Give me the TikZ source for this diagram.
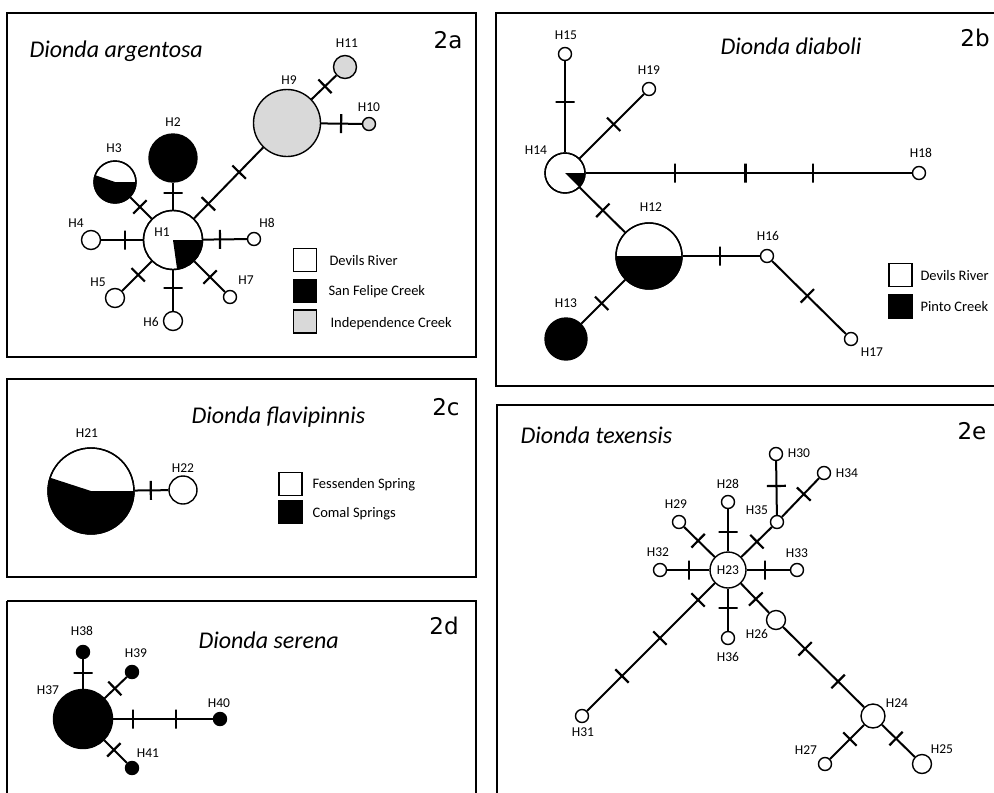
\documentclass[tikz,border=0pt]{standalone}
\usepackage{fontspec}
\setmainfont{Carlito}
\newfontfamily\panelfont{DejaVu Sans}
\definecolor{indep}{HTML}{D9D9D9}
\begin{document}
\begin{tikzpicture}[x=1pt,y=-1pt,
  hap/.style={circle, draw, line width=1.4pt, fill=white, inner sep=0pt, minimum size=#1},
  hap/.default=13pt,
  link/.style={line width=2pt},
  rim/.style={line width=1.4pt},
  mut/.style={sloped, draw, line width=2.2pt, line join=bevel, inner sep=0pt, minimum width=0pt, minimum height=19pt, pos=#1},
  lab/.style={font=\fontsize{13.5}{14}\selectfont},
  leg/.style={anchor=base west, font=\fontsize{14.5}{16}\selectfont},
  legbox/.style={draw, line width=1.4pt, minimum size=23pt, inner sep=0pt},
  ttl/.style={anchor=base west, font=\fontsize{24}{26}\selectfont\itshape},
  panel/.style={font=\fontsize{23}{26}\selectfont\panelfont},
  frame/.style={line width=2.5pt}]
\useasboundingbox (0,0) rectangle (994,793);
\fill[white] (0,0) rectangle (994,793);

% ---------- frames
\draw[frame] (7,13) rectangle (476,357);
\draw[frame] (496,13) rectangle (1002,386);
\draw[frame] (7,379) rectangle (476,577);
\draw[frame] (7,601) -- (7,800);
\draw[frame] (7,601) -- (476,601) -- (476,800);
\draw[frame] (497,800) -- (497,405) -- (1002,405);

% ---------- titles
\node[ttl] (t2a) at (26,57) {Dionda argentosa};
\node[ttl] (t2b) at (717,54) {Dionda diaboli};
\node[ttl] (t2c) at (188,423) {Dionda flavipinnis};
\node[ttl] (t2d) at (195,648) {Dionda serena};
\node[ttl] (t2e) at (517,443) {Dionda texensis};
\node[panel] (p2a) at (448,40) {2a};
\node[panel] (p2b) at (975,38) {2b};
\node[panel] (p2c) at (446,407) {2c};
\node[panel] (p2d) at (444,626) {2d};
\node[panel] (p2e) at (972,431) {2e};

% ---------- 2a
\node[hap=59pt] (h1) at (173,240) {};
\node[hap=48pt, fill=black] (h2) at (173,158) {};
\node[hap=42pt] (h3) at (115,182) {};
\node[hap=19pt] (h4) at (91,240) {};
\node[hap=19pt] (h5) at (115,298) {};
\node[hap=19pt] (h6) at (173,321) {};
\node[hap] (h7) at (230,297) {};
\node[hap] (h8) at (254,239) {};
\node[hap=67pt, fill=indep] (h9) at (287,123) {};
\node[hap, fill=indep] (h10) at (369,124) {};
\node[hap=23pt, fill=indep] (h11) at (345,67) {};
\fill (h1.center) -- ++(0:29.5) arc[start angle=0, end angle=82, radius=29.5] -- cycle;
\fill (h3.center) -- ++(0:21) arc[start angle=0, end angle=199, radius=21] -- cycle;
\draw[rim] (h1.center) circle[radius=29.5];
\draw[rim] (h3.center) circle[radius=21];
\foreach \a/\b in {h1/h2,h1/h3,h1/h4,h1/h5,h1/h6,h1/h7,h1/h8,h1/h9,h9/h10,h9/h11}
  \draw[link] (\a) -- (\b);
\path (h1.center) -- node[mut=0.57]{} (h2.center);
\path (h1.center) -- node[mut=0.57]{} (h3.center);
\path (h1.center) -- node[mut=0.585]{} (h4.center);
\path (h1.center) -- node[mut=0.60]{} (h5.center);
\path (h1.center) -- node[mut=0.59]{} (h6.center);
\path (h1.center) -- node[mut=0.65]{} (h7.center);
\path (h1.center) -- node[mut=0.58]{} (h8.center);
\path (h1.center) -- node[mut=0.31]{} node[mut=0.58]{} (h9.center);
\path (h9.center) -- node[mut=0.66]{} (h10.center);
\path (h9.center) -- node[mut=0.655]{} (h11.center);
\node[lab] (l1) at (162,232) {H1};
\node[lab] (l2) at (173,122) {H2};
\node[lab] (l3) at (114,148) {H3};
\node[lab] (l4) at (76,223) {H4};
\node[lab] (l5) at (98,282) {H5};
\node[lab] (l6) at (151,322) {H6};
\node[lab] (l7) at (246,280) {H7};
\node[lab] (l8) at (267,223) {H8};
\node[lab] (l9) at (289,80) {H9};
\node[lab] (l10) at (369,107) {H10};
\node[lab] (l11) at (347,43) {H11};
\node[legbox, fill=white] (ka1) at (305,260) {};
\node[legbox, fill=black] (ka2) at (305,291) {};
\node[legbox, fill=indep] (ka3) at (305,321.5) {};
\node[leg] (la1) at (326,265) {Devils River};
\node[leg] (la2) at (325,295) {San Felipe Creek};
\node[leg] (la3) at (327,327) {Independence Creek};

% ---------- 2b
\node[hap=40pt] (h14) at (565,173) {};
\node[hap] (h15) at (565,54) {};
\node[hap] (h19) at (649,89) {};
\node[hap] (h18) at (919,173) {};
\node[hap=66pt] (h12) at (649,256) {};
\node[hap=42pt, fill=black] (h13) at (566,339) {};
\node[hap] (h16) at (767,256) {};
\node[hap] (h17) at (851,339) {};
\fill (h14.center) -- ++(0:20) arc[start angle=0, end angle=45, radius=20] -- cycle;
\fill (h12.center) -- ++(0:33) arc[start angle=0, end angle=180, radius=33] -- cycle;
\draw[rim] (h14.center) circle[radius=20];
\draw[rim] (h12.center) circle[radius=33];
\foreach \a/\b in {h14/h15,h14/h19,h14/h18,h14/h12,h12/h13,h12/h16,h16/h17}
  \draw[link] (\a) -- (\b);
\path (h14.center) -- node[mut=0.60]{} (h15.center);
\path (h14.center) -- node[mut=0.58]{} (h19.center);
\path (h14.center) -- node[mut=0.31]{} node[mut=0.51]{} node[mut=0.70]{} (h18.center);
\path (h14.center) -- node[mut=0.45]{} (h12.center);
\path (h12.center) -- node[mut=0.57]{} (h13.center);
\path (h12.center) -- node[mut=0.60]{} (h16.center);
\path (h16.center) -- node[mut=0.48]{} (h17.center);
\node[lab] (l14) at (536,150) {H14};
\node[lab] (l15) at (566,35) {H15};
\node[lab] (l19) at (649,70) {H19};
\node[lab] (l18) at (921,153) {H18};
\node[lab] (l12) at (651,207) {H12};
\node[lab] (l13) at (566,303) {H13};
\node[lab] (l16) at (768,236) {H16};
\node[lab] (l17) at (872,352) {H17};
\node[legbox, fill=white] (kb1) at (900.5,275) {};
\node[legbox, fill=black] (kb2) at (900.5,306.5) {};
\node[leg] (lb1) at (917,280) {Devils River};
\node[leg] (lb2) at (917,311) {Pinto Creek};

% ---------- 2c
\node[hap=86pt] (h21) at (91,491) {};
\node[hap=28pt] (h22) at (183,490) {};
\fill (h21.center) -- ++(0:43) arc[start angle=0, end angle=198, radius=43] -- cycle;
\draw[rim] (h21.center) circle[radius=43];
\draw[link] (h21) -- (h22);
\path (h21.center) -- node[mut=0.65]{} (h22.center);
\node[lab] (l21) at (87,433) {H21};
\node[lab] (l22) at (183,468) {H22};
\node[legbox, fill=white] (kc1) at (290.5,484) {};
\node[legbox, fill=black] (kc2) at (290.5,512) {};
\node[leg] (lc1) at (309,488) {Fessenden Spring};
\node[leg] (lc2) at (309,517) {Comal Springs};

% ---------- 2d
\node[hap=59pt, fill=black] (h37) at (83,719) {};
\node[hap, fill=black] (h38) at (83,652) {};
\node[hap, fill=black] (h39) at (132,672) {};
\node[hap, fill=black] (h40) at (220,719) {};
\node[hap, fill=black] (h41) at (132,768) {};
\foreach \b in {h38,h39,h40,h41} \draw[link] (h37) -- (\b);
\path (h37.center) -- node[mut=0.69]{} (h38.center);
\path (h37.center) -- node[mut=0.65]{} (h39.center);
\path (h37.center) -- node[mut=0.365]{} node[mut=0.68]{} (h40.center);
\path (h37.center) -- node[mut=0.63]{} (h41.center);
\node[lab] (l37) at (48,690) {H37};
\node[lab] (l38) at (82,631) {H38};
\node[lab] (l39) at (136,653) {H39};
\node[lab] (l40) at (219,703) {H40};
\node[lab] (l41) at (148,753) {H41};

% ---------- 2e
\node[hap=36pt, lab] (h23) at (728,570) {H23};
\node[hap] (h28) at (728,502) {};
\node[hap] (h29) at (679,522) {};
\node[hap] (h32) at (660,570) {};
\node[hap] (h33) at (797,570) {};
\node[hap] (h35) at (777,522) {};
\node[hap] (h30) at (776,454) {};
\node[hap] (h34) at (824,473) {};
\node[hap] (h36) at (728,638) {};
\node[hap=19pt] (h26) at (776,620) {};
\node[hap=24pt] (h24) at (873,716) {};
\node[hap] (h27) at (825,764) {};
\node[hap=19pt] (h25) at (922,764) {};
\node[hap] (h31) at (582,716) {};
\foreach \a/\b in {h23/h28,h23/h29,h23/h32,h23/h33,h23/h35,h35/h30,h35/h34,h23/h36,h23/h26,h26/h24,h24/h27,h24/h25,h23/h31}
  \draw[link] (\a) -- (\b);
\path (h23.center) -- node[mut=0.56]{} (h28.center);
\path (h23.center) -- node[mut=0.61]{} (h29.center);
\path (h23.center) -- node[mut=0.57]{} (h32.center);
\path (h23.center) -- node[mut=0.54]{} (h33.center);
\path (h23.center) -- node[mut=0.59]{} (h35.center);
\path (h35.center) -- node[mut=0.53]{} (h30.center);
\path (h35.center) -- node[mut=0.57]{} (h34.center);
\path (h23.center) -- node[mut=0.56]{} (h36.center);
\path (h23.center) -- node[mut=0.58]{} (h26.center);
\path (h26.center) -- node[mut=0.30]{} node[mut=0.64]{} (h24.center);
\path (h24.center) -- node[mut=0.48]{} (h27.center);
\path (h24.center) -- node[mut=0.47]{} (h25.center);
\path (h23.center) -- node[mut=0.205]{} node[mut=0.466]{} node[mut=0.726]{} (h31.center);
\node[lab] (l28) at (728,484) {H28};
\node[lab] (l29) at (676,504) {H29};
\node[lab] (l32) at (658,552) {H32};
\node[lab] (l33) at (797,553) {H33};
\node[lab] (l35) at (757,510) {H35};
\node[lab] (l30) at (799,453) {H30};
\node[lab] (l34) at (847,473) {H34};
\node[lab] (l36) at (728,657) {H36};
\node[lab] (l26) at (757,634) {H26};
\node[lab] (l24) at (897,703) {H24};
\node[lab] (l27) at (806,750) {H27};
\node[lab] (l25) at (942,749) {H25};
\node[lab] (l31) at (583,732) {H31};
\end{tikzpicture}
\end{document}
